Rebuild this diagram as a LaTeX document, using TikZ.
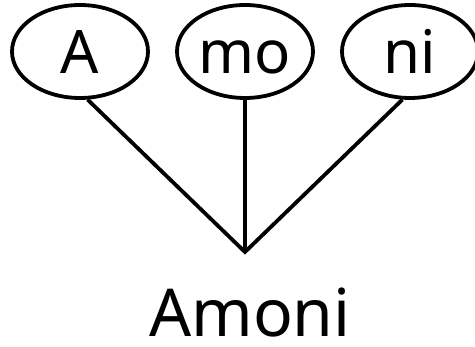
\documentclass[tikz,border=0pt]{standalone}
\usepackage{fontspec}
\setmainfont{Noto Sans}
\usetikzlibrary{shapes.geometric}
\begin{document}
\begin{tikzpicture}[x=1pt,y=1pt,
  part/.style={ellipse,draw,line width=3.8pt,minimum width=136pt,minimum height=93pt,
    inner sep=0pt,font=\fontsize{60}{60}\selectfont,text height=44pt,text depth=0pt},
  conn/.style={line width=3.8pt,miter limit=20}]
\useasboundingbox (0,0) rectangle (475,-347);
\node[part] (a) at (80,-51.5) {A};
\node[part] (b) at (245,-51.5) {mo};
\node[part] (c) at (410,-51.5) {ni};
\coordinate (j) at (245,-252);
\node[anchor=base,inner sep=0pt,font=\fontsize{66}{66}\selectfont] (w) at (250,-337) {Amoni};
\draw[conn] (a.-81) -- (j) -- (c.-99);
\draw[conn] (b.south) -- (j);
\end{tikzpicture}
\end{document}
